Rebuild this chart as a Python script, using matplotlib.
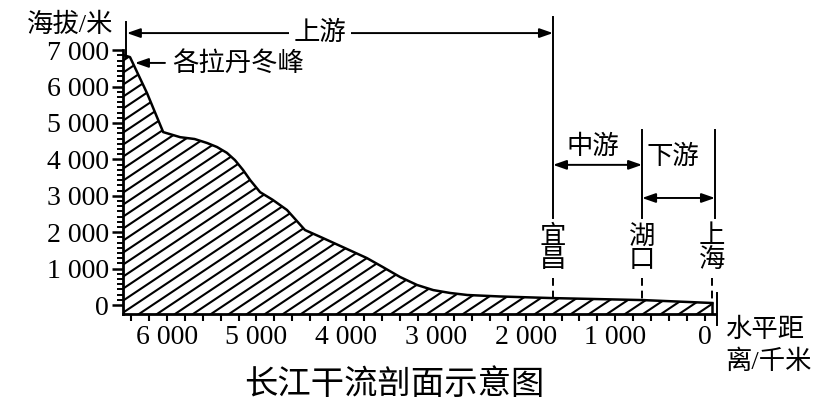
import numpy as np
import matplotlib
matplotlib.use("Agg")
import matplotlib.pyplot as plt

plt.rcParams['font.family'] = ['Liberation Serif', 'Noto Sans CJK SC', 'DejaVu Sans']

# 长江干流剖面 (距河口距离/千米, 海拔/米)
dist = [6490, 6410, 6220, 6040, 5850, 5690, 5550, 5440, 5330, 5240, 5150,
        5070, 4960, 4820, 4660, 4460, 4260, 3770, 3590, 3400, 3210, 3030,
        2840, 2650, 2290, 1700, 690, -80]
elev = [6870, 6810, 5820, 4750, 4610, 4560, 4450, 4340, 4180, 3980, 3710,
        3430, 3100, 2890, 2610, 2060, 1840, 1290, 1040, 770, 550, 410,
        330, 275, 235, 190, 135, 55]

x_ticks = [6000, 5000, 4000, 3000, 2000, 1000, 0]
x_tick_labels = ["6 000", "5 000", "4 000", "3 000", "2 000", "1 000", "0"]
y_ticks = [0, 1000, 2000, 3000, 4000, 5000, 6000, 7000]
y_tick_labels = ["0", "1 000", "2 000", "3 000", "4 000", "5 000", "6 000", "7 000"]

# 分界点
source_d = 6455
yichang_d = 1695
hukou_d = 702
shanghai_d = -78
mouth_line_d = -111

XMIN, XMAX = 6488, -111
YMIN, YMAX = -247, 8104

W_PX, H_PX = 826, 409
left_px, right_px, top_px, bottom_px = 123, 715, 10, 314

fig = plt.figure(figsize=(W_PX / 100, H_PX / 100), dpi=100)
ax = fig.add_axes([left_px / W_PX, (H_PX - bottom_px) / H_PX,
                   (right_px - left_px) / W_PX, (bottom_px - top_px) / H_PX])
ax.set_xlim(XMIN, XMAX)
ax.set_ylim(YMIN, YMAX)

# 剖面填充 + 斜线
poly_x = list(dist) + [dist[-1], dist[0]]
poly_y = list(elev) + [YMIN, YMIN]
poly = ax.fill(poly_x, poly_y, facecolor='white', edgecolor='none', zorder=1)[0]

aw = right_px - left_px
ah = bottom_px - top_px
slope = 2 / 3
for c in np.arange(-slope * aw, ah, 12):
    ln, = ax.plot([0, 1], [c / ah, (slope * aw + c) / ah], transform=ax.transAxes,
                  color='black', lw=1.5, zorder=2, solid_capstyle='butt')
    ln.set_clip_path(poly)

ax.plot(dist, elev, color='black', lw=1.8, zorder=3, solid_joinstyle='round')
ax.plot([dist[-1], dist[-1]], [elev[-1], YMIN], color='black', lw=1.8, zorder=3)

# 坐标轴
for s in ['top', 'right']:
    ax.spines[s].set_visible(False)
ax.spines['left'].set_bounds(YMIN, 7000)
ax.spines['left'].set_linewidth(2.0)
ax.spines['bottom'].set_linewidth(2.0)

ax.set_xticks(x_ticks)
ax.set_xticklabels(x_tick_labels)
ax.set_xticks(np.arange(6400, -1, -200), minor=True)
ax.set_yticks(y_ticks)
ax.set_yticklabels(y_tick_labels)
ax.set_yticks(np.arange(0, 7000, 1000 / 7), minor=True)

ax.tick_params(axis='y', which='major', direction='out', length=8, width=1.8,
               pad=2, labelsize=20)
ax.tick_params(axis='y', which='minor', direction='out', length=4.5, width=1.4)
ax.tick_params(axis='x', which='major', direction='out', length=5, width=1.5,
               pad=3, labelsize=20)
ax.tick_params(axis='x', which='minor', direction='out', length=5, width=1.5)

lw = 1.4
kw = dict(color='black', lw=lw, clip_on=False, zorder=4)
dash = dict(color='black', lw=lw, clip_on=False, zorder=4, linestyle=(0, (4, 2.5)))

TOP_E = 7880
UP_ARROW_E = 7470
MID_TOP_E = 4810
MID_ARROW_E = 3850
LOW_ARROW_E = 2940
SOLID_END_E = 2390
DASH_TOP_E = 740

# 源头竖线
ax.plot([source_d, source_d], [TOP_E - 100, elev[0] - 60], **kw)
# 宜昌
ax.plot([yichang_d, yichang_d], [TOP_E + 40, SOLID_END_E], **kw)
ax.plot([yichang_d, yichang_d], [DASH_TOP_E, 195], **dash)
# 湖口
ax.plot([hukou_d, hukou_d], [MID_TOP_E, SOLID_END_E], **kw)
ax.plot([hukou_d, hukou_d], [DASH_TOP_E, 137], **dash)
# 上海
ax.plot([mouth_line_d, mouth_line_d], [MID_TOP_E, SOLID_END_E], **kw)
ax.plot([shanghai_d, shanghai_d], [DASH_TOP_E, 60], **dash)
ax.plot([mouth_line_d - 25, mouth_line_d - 25], [330, -550], **kw)

arrow = dict(arrowstyle='<|-|>,head_length=0.8,head_width=0.28', color='black',
             lw=lw, shrinkA=0, shrinkB=0)
ax.annotate('', xy=(source_d - 10, UP_ARROW_E), xytext=(yichang_d, UP_ARROW_E),
            arrowprops=arrow, annotation_clip=False)
ax.annotate('', xy=(yichang_d, MID_ARROW_E), xytext=(hukou_d, MID_ARROW_E),
            arrowprops=arrow, annotation_clip=False)
ax.annotate('', xy=(hukou_d, LOW_ARROW_E), xytext=(mouth_line_d, LOW_ARROW_E),
            arrowprops=arrow, annotation_clip=False)
ax.annotate('', xy=(6355, 6650), xytext=(6020, 6650),
            arrowprops=dict(arrowstyle='-|>,head_length=0.8,head_width=0.28',
                            color='black', lw=lw, shrinkA=0, shrinkB=0),
            annotation_clip=False)

cn = 19
ax.text(4292, UP_ARROW_E, '上游', fontsize=cn, ha='center',
        va='center', zorder=6, bbox=dict(facecolor='white', edgecolor='none', pad=3))
ax.text(5935, 6650, '各拉丹冬峰', fontsize=cn, ha='left', va='center')
ax.text(1249, 4341, '中游', fontsize=cn, ha='center', va='center')
ax.text(357, 4066, '下游', fontsize=cn, ha='center', va='center')
for d, name in [(yichang_d, '宜\n昌'), (hukou_d, '湖\n口'), (shanghai_d, '上\n海')]:
    ax.text(d, 1540, name, fontsize=cn, ha='center', va='center', linespacing=1.0)

fig.text(70 / W_PX, 1 - 25 / H_PX, '海拔/米', fontsize=cn, ha='center', va='center')
fig.text(725 / W_PX, 1 - 330 / H_PX, '水平距', fontsize=cn, ha='left', va='center')
fig.text(725 / W_PX, 1 - 362 / H_PX, '离/千米', fontsize=cn, ha='left', va='center')
fig.text(394 / W_PX, 1 - 385 / H_PX, '长江干流剖面示意图', fontsize=24,
         ha='center', va='center')

fig.savefig('out.png', dpi=100, facecolor='white')
